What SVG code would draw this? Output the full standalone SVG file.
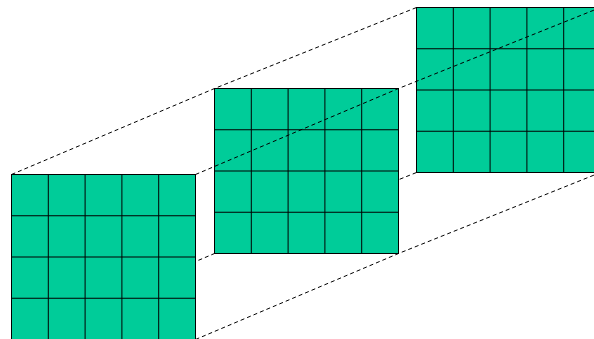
<svg xmlns="http://www.w3.org/2000/svg" xmlns:xlink="http://www.w3.org/1999/xlink" width="594" height="339" viewBox="0 0 594 339">
<style>
.dash{fill:none;stroke:#000;stroke-width:1;stroke-dasharray:4,3}
.cell{fill:#00CC99;stroke:#000;stroke-width:1}
.gl{stroke:#000;stroke-width:1}
</style>
<defs>
<g id="grid">
<rect class="cell" x="0" y="0" width="184" height="165"/>
<path class="gl" d="M36.8,0V165M73.6,0V165M110.4,0V165M147.2,0V165M0,41.25H184M0,82.5H184M0,123.75H184"/>
</g>
</defs>
<g id="connectors-back">
<polyline class="dash" points="11.5,339.5 214.5,253.5 416.5,172.5"/>
</g>
<g id="layer1" transform="translate(11.5,174.5)"><use xlink:href="#grid"/></g>
<g id="layer2" transform="translate(214.5,88.5)"><use xlink:href="#grid"/></g>
<g id="layer3" transform="translate(416.5,7.5)"><use xlink:href="#grid"/></g>
<g id="connectors">
<polyline class="dash" points="11.5,174.5 214.5,88.5 416.5,7.5"/>
<polyline class="dash" points="195.5,174.5 398.5,88.5 600.5,7.5 620,-0.5"/>
<polyline class="dash" points="195.5,339.5 398.5,253.5 600.5,172.5"/>
</g>
</svg>
